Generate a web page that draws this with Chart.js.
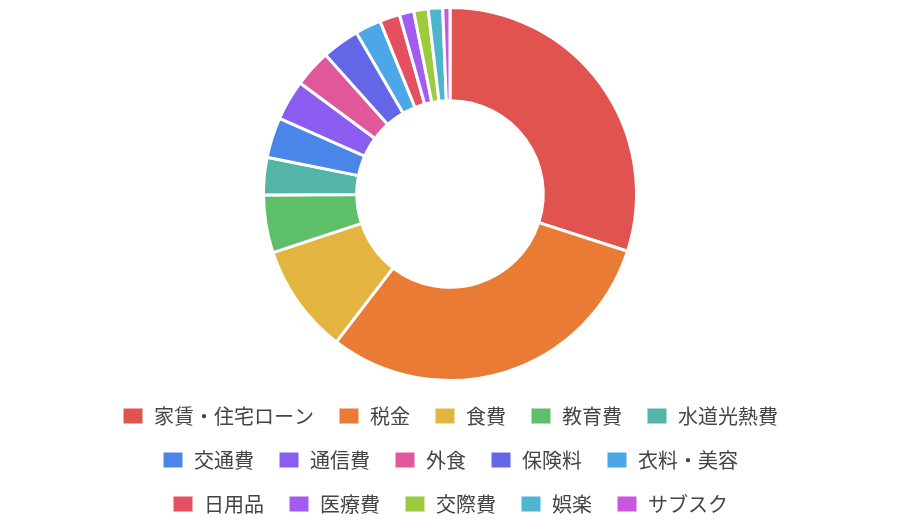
<!DOCTYPE html>
<html>
<head>
<meta charset="utf-8">
<script src="https://cdn.jsdelivr.net/npm/chart.js@4"></script>
<style>
  body { margin: 0; background: #fff; }
  #wrap { width: 924px; height: 530px; }
</style>
</head>
<body>
<div id="wrap"><canvas id="chart"></canvas></div>
<script>
// 支出の内訳
const categories = ['家賃・住宅ローン', '税金', '食費', '教育費', '水道光熱費', '交通費', '通信費', '外食', '保険料', '衣料・美容', '日用品', '医療費', '交際費', '娯楽', 'サブスク'];
const amounts = [120, 122, 38, 20, 13, 14, 14, 13, 13, 9, 7, 5, 5, 5, 2.5];
const colors = ['#e0534f', '#ea7b35', '#e3b43f', '#5dbf67', '#53b5a6', '#4a86e8', '#8b5cf0', '#e0579a', '#6366e6', '#4ca7e8', '#e4505f', '#a35cf0', '#9dcb3e', '#4db5cd', '#c957e2'];

new Chart(document.getElementById('chart'), {
  type: 'doughnut',
  data: {
    labels: categories,
    datasets: [{ data: amounts, backgroundColor: colors, borderColor: '#fff', borderWidth: 3 }]
  },
  options: {
    responsive: true,
    maintainAspectRatio: false,
    animation: false,
    cutout: '50%',
    layout: { padding: { top: 6, bottom: 6, left: 92, right: 116 } },
    plugins: {
      legend: {
        position: 'bottom',
        labels: {
          boxWidth: 22,
          boxHeight: 18,
          padding: 24,
          color: '#444',
          font: { size: 20, family: '"Noto Sans CJK JP", sans-serif' }
        }
      },
      tooltip: { enabled: false }
    }
  }
});
</script>
</body>
</html>
